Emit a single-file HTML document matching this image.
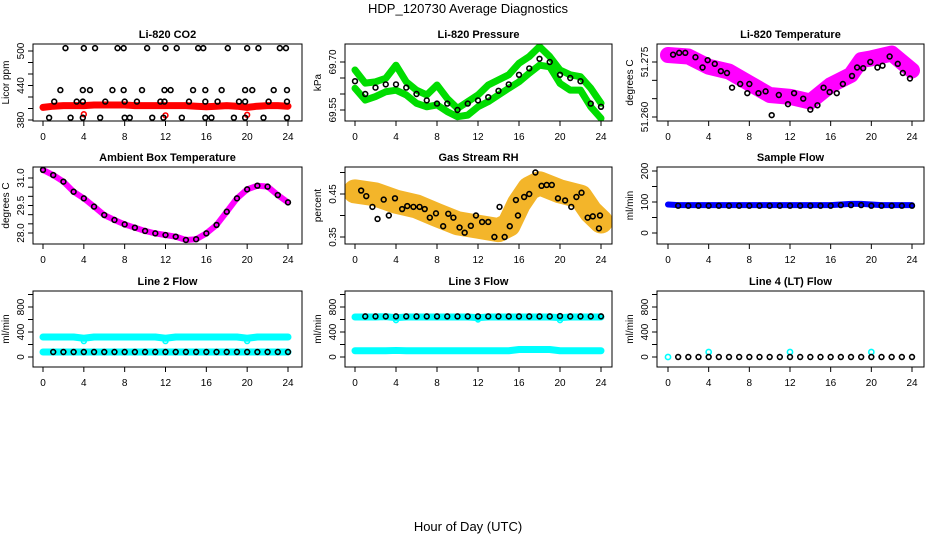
<!DOCTYPE html>
<html><head><meta charset="utf-8">
<style>
html,body{margin:0;padding:0;background:#fff;}
svg{display:block;font-family:"Liberation Sans",sans-serif;}
</style></head>
<body>
<svg id="chart" width="936" height="540" viewBox="0 0 936 540" xmlns="http://www.w3.org/2000/svg">
<text x="468" y="13" text-anchor="middle" font-size="13">HDP_120730  Average Diagnostics</text>
<text x="468" y="531" text-anchor="middle" font-size="13">Hour of Day (UTC)</text>
</svg>
<script>
const HOURS = [0,1,2,3,4,5,6,7,8,9,10,11,12,13,14,15,16,17,18,19,20,21,22,23,24];
const xTicks = [0,4,8,12,16,20,24];

// CO2
const co2Red = [402,404,405,405,405,406,406,406,406,405,405,405,405,405,405,404,403,404,405,404,402,404,405,405,404];
const co2RedOutHours = [4,12,20];
const co2RedOutVals = [390,388,389];
const co2Row1Hours = [2.2,4,5.1,7.3,7.9,10.2,12,13.1,15.2,15.7,18.1,20,21.1,23.2,23.8];
const co2Row2Hours = [1.7,3.9,4.6,6.8,7.9,9.7,11.9,12.5,14.7,15.9,17.5,19.8,20.5,22.6,23.9];
const co2Row3Hours = [1.1,3.3,3.9,6.1,8,9.2,11.5,11.9,14.3,15.9,17.1,19.2,19.8,22.1,23.9];
const co2Row4Hours = [0.6,2.7,3.9,5.6,8,8.5,10.7,11.8,13.6,15.9,16.5,18.7,19.8,21.6,23.9];
const co2RowVals = [505,432,412,384];

// Pressure
const presUpper = [69.675,69.634,69.638,69.649,69.69,69.638,69.612,69.597,69.628,69.586,69.555,69.576,69.597,69.628,69.644,69.66,69.696,69.717,69.748,69.717,69.675,69.66,69.654,69.618,69.571];
const presLower = [69.618,69.581,69.592,69.607,69.612,69.597,69.571,69.56,69.566,69.545,69.529,69.534,69.56,69.576,69.597,69.618,69.638,69.665,69.69,69.685,69.633,69.612,69.612,69.56,69.524];
const presBlack = [69.64,69.60,69.62,69.63,69.63,69.62,69.60,69.58,69.57,69.57,69.55,69.57,69.58,69.59,69.61,69.63,69.66,69.68,69.71,69.70,69.66,69.65,69.64,69.57,69.56];

// Li-820 temperature
const tempHours = [0,2,4,6,8,10,12,14,16,18,19,20,22,24];
const tempCloud = [51.2769,51.2765,51.2737,51.2724,51.2692,51.266,51.2655,51.2642,51.2687,51.2715,51.2755,51.276,51.2773,51.2727];
const tempBlackHours = [0.5,1.1,1.7,2.7,3.4,3.9,4.6,5.2,5.8,6.3,7.1,7.8,8,8.9,9.6,10.2,10.9,11.8,12.4,13.3,14,14.7,15.3,15.9,16.6,17.2,18.1,18.6,19.2,19.9,20.6,21.1,21.8,22.6,23.1,23.8];
const tempBlackVals = [51.277,51.2775,51.2775,51.2763,51.2735,51.2755,51.2745,51.2725,51.272,51.268,51.269,51.2665,51.269,51.2665,51.267,51.2605,51.266,51.2635,51.2665,51.265,51.262,51.2632,51.268,51.2668,51.2665,51.269,51.2712,51.2735,51.2733,51.275,51.2735,51.274,51.2765,51.2745,51.272,51.2705];

// Ambient box temperature
const ambVals = [31.44,31.16,30.80,30.25,29.89,29.44,28.98,28.71,28.47,28.29,28.11,27.98,27.89,27.80,27.62,27.66,27.98,28.44,29.16,29.89,30.38,30.58,30.53,30.07,29.67];

// Gas stream RH
const rhHours = [0,2,4,6,8,10,12,14,15,16,17,18,20,22,23,24];
const rhCloud = [0.456,0.449,0.432,0.421,0.401,0.382,0.374,0.366,0.378,0.428,0.463,0.475,0.456,0.444,0.409,0.386];
const rhBlackHours = [0.6,1.1,1.7,2.2,2.8,3.3,3.9,4.6,5.1,5.7,6.3,6.8,7.3,7.9,8.6,9.1,9.6,10.2,10.7,11.3,11.8,12.4,13,13.6,14.1,14.6,15.1,15.7,15.9,16.5,17,17.6,18.2,18.7,19.2,19.8,20.5,21.1,21.6,22.1,22.7,23.2,23.8,23.9];
const rhBlackVals = [0.458,0.445,0.42,0.392,0.437,0.40,0.44,0.415,0.422,0.42,0.42,0.415,0.395,0.405,0.375,0.404,0.395,0.372,0.36,0.376,0.40,0.385,0.385,0.35,0.42,0.35,0.375,0.436,0.40,0.443,0.45,0.50,0.469,0.471,0.471,0.44,0.435,0.42,0.443,0.453,0.395,0.398,0.37,0.40];

// Flows
const sampleBlue = [92,90,90,90,90,90,90,90,90,90,90,90,90,90,90,90,90,92,94,94,92,90,90,90,90];
const sampleBlack = [88,88,88,88,88,88,88,88,88,88,88,88,88,88,88,88,88,90,90,90,88,88,88,88,88];
const line2Cyan = [320,320,320,320,300,320,320,320,320,320,320,320,300,320,320,320,320,320,320,320,300,320,320,320,320];
const line2Black = [80,80,80,80,80,80,80,80,80,80,80,80,80,80,80,80,80,80,80,80,80,80,80,80,80];
const line2DipHours = [4,12,20];
const line2DipVals = [255,255,255];
const line3CyanHigh = [640,640,640,645,630,640,640,640,640,640,640,640,630,640,640,640,640,640,640,640,630,640,640,640,640];
const line3Black = [650,650,650,650,650,650,650,650,650,650,650,650,650,650,650,650,650,650,650,650,655,650,650,650,650];
const line3CyanLow = [100,100,100,100,105,100,100,100,100,100,100,100,100,100,100,100,120,120,120,120,100,100,100,100,100];
const line3DipHours = [4,12,20];
const line3DipVals = [590,600,590];
const line4Black = [0,0,0,0,0,0,0,0,0,0,0,0,0,0,0,0,0,0,0,0,0,0,0,0,0];
const line4SpikeHours = [0,4,12,20];
const line4SpikeVals = [0,80,80,80];

const svg = document.getElementById('chart');
const NS = 'http://www.w3.org/2000/svg';
function mk(tag, attrs, parent){
  const e = document.createElementNS(NS, tag);
  for (const k in attrs) e.setAttribute(k, attrs[k]);
  (parent||svg).appendChild(e);
  return e;
}
const cols = [{l:33,r:302,x0:43,x24:288},{l:345,r:612,x0:355,x24:601},{l:657,r:924,x0:668,x24:912}];
const rows = [{t:44,b:121},{t:167,b:244},{t:291,b:367}];

function makePanel(name, ci, ri, title, ylab, v0, p0, v1, p1, yt, ytLabels){
  const c = cols[ci], r = rows[ri];
  const g = mk('g', {});
  
  
  const X = h => c.x0 + (c.x24 - c.x0) * h / 24;
  const Y = v => p0 + (v - v0) * (p1 - p0) / (v1 - v0);
  const t = mk('text', {x:(c.l+c.r)/2, y:r.t-6, 'text-anchor':'middle', 'font-size':11, 'font-weight':'bold'}, g);
  t.textContent = title;
  
  
  const yl = mk('text', {x:0, y:0, transform:`translate(${c.l-24},${(r.t+r.b)/2}) rotate(-90)`, 'text-anchor':'middle', 'font-size':10}, g);
  yl.textContent = ylab;
  
  
  xTicks.forEach(h => {
    mk('line', {x1:X(h), x2:X(h), y1:r.b, y2:r.b+5, stroke:'#000'}, g);
    const tl = mk('text', {x:X(h), y:r.b+19, 'text-anchor':'middle', 'font-size':10}, g);
    tl.textContent = h;
    
    
  });
  mk('line', {x1:X(0), x2:X(24), y1:r.b, y2:r.b, stroke:'#000'}, g);
  yt.forEach((v, i) => {
    mk('line', {x1:c.l-5, x2:c.l, y1:Y(v), y2:Y(v), stroke:'#000'}, g);
    if (ytLabels[i] !== '') {
      const tl = mk('text', {x:0, y:0, transform:`translate(${c.l-9},${Y(v)}) rotate(-90)`, 'text-anchor':'middle', 'font-size':10}, g);
      tl.textContent = ytLabels[i];
      
      
    }
  });
  const plot = mk('g', {}, g);
  
  
  const clip = 'clip-' + name;
  const cp = mk('clipPath', {id:clip}, g);
  mk('rect', {x:c.l, y:r.t, width:c.r-c.l, height:r.b-r.t}, cp);
  plot.setAttribute('clip-path', `url(#${clip})`);
  const box = mk('rect', {x:c.l, y:r.t, width:c.r-c.l, height:r.b-r.t, fill:'none', stroke:'#000'}, g);
  
  
  return {X, Y, plot};
}
function band(P, hours, vals, color, w, name){
  const pl = mk('polyline', {points: hours.map((h,i)=>P.X(h)+','+P.Y(vals[i])).join(' '), fill:'none', stroke:color, 'stroke-width':w, 'stroke-linejoin':'round', 'stroke-linecap':'round'}, P.plot);
  
  
}
function pts(P, hours, vals, color, name, rr){
  hours.forEach((h,i) => {
    const ci = mk('circle', {cx:P.X(h), cy:P.Y(vals[i]), r:rr||2.4, fill:'none', stroke:color, 'stroke-width':1.6}, P.plot);
    
    
  });
}
function densePts(P, hours, vals, color, name){
  // points at every data hour, plus markers at half-way spacing along the series
  for (let i = 0; i < hours.length; i++) {
    pts(P, [hours[i]], [vals[i]], color, name, 2.3);
  }
}

// Panel 1: CO2
let P = makePanel('co2', 0, 0, 'Li-820 CO2', 'Licor ppm', 380, 120, 500, 51,
  [380,400,420,440,460,480,500], ['380','','','440','','','500']);
band(P, HOURS, co2Red, '#ff0000', 7, 'co2-red-series');
pts(P, co2RedOutHours, co2RedOutVals, '#ff0000', 'co2-red-outlier');
[co2Row1Hours, co2Row2Hours, co2Row3Hours, co2Row4Hours].forEach((hs, k) => {
  pts(P, hs, hs.map(() => co2RowVals[k]), '#000', 'co2-black-point');
});

// Panel 2: Pressure
P = makePanel('pressure', 1, 0, 'Li-820 Pressure', 'kPa', 69.55, 110, 69.70, 62,
  [69.55,69.60,69.65,69.70], ['69.55','','','69.70']);
band(P, HOURS, presUpper, '#00dd00', 7, 'pressure-green-upper');
band(P, HOURS, presLower, '#00dd00', 7, 'pressure-green-lower');
pts(P, HOURS, presBlack, '#000', 'pressure-black-point');

// Panel 3: Li-820 temperature
P = makePanel('li820-temp', 2, 0, 'Li-820 Temperature', 'degrees C', 51.260, 117, 51.275, 62,
  [51.260,51.265,51.270,51.275], ['51.260','','','51.275']);
band(P, tempHours, tempCloud, '#ff00ff', 16, 'li820-temp-magenta-cloud');
pts(P, tempBlackHours, tempBlackVals, '#000', 'li820-temp-black-point');

// Panel 4: Ambient
P = makePanel('ambient-temp', 0, 1, 'Ambient Box Temperature', 'degrees C', 28.0, 233, 31.0, 178,
  [28.0,28.5,29.0,29.5,30.0,30.5,31.0], ['28.0','','','29.5','','','31.0']);
band(P, HOURS, ambVals, '#ff00ff', 6, 'ambient-magenta-series');
pts(P, HOURS, ambVals, '#000', 'ambient-black-point');

// Panel 5: RH
P = makePanel('gas-rh', 1, 1, 'Gas Stream RH', 'percent', 0.35, 237, 0.45, 194,
  [0.35,0.40,0.45,0.50], ['0.35','','0.45','']);
band(P, rhHours, rhCloud, '#f3b52a', 24, 'rh-orange-cloud');
pts(P, rhBlackHours, rhBlackVals, '#000', 'rh-black-point');

// Panel 6: Sample flow
P = makePanel('sample-flow', 2, 1, 'Sample Flow', 'ml/min', 0, 233, 200, 171,
  [0,50,100,150,200], ['0','','100','','200']);
band(P, HOURS, sampleBlue, '#0000ff', 6, 'sample-flow-blue');
pts(P, HOURS.slice(1), sampleBlack.slice(1), '#000', 'sample-flow-black-point');

// Panel 7: Line 2
P = makePanel('line2-flow', 0, 2, 'Line 2 Flow', 'ml/min', 0, 357, 800, 307,
  [0,200,400,600,800,1000], ['0','','400','','800','']);
band(P, HOURS, line2Cyan, '#00ffff', 7, 'line2-cyan-high');
band(P, HOURS, line2Black, '#00ffff', 7, 'line2-cyan-low');
pts(P, line2DipHours, line2DipVals, '#00ffff', 'line2-cyan-dip');
pts(P, HOURS.slice(1), line2Black.slice(1), '#000', 'line2-black-point');

// Panel 8: Line 3
P = makePanel('line3-flow', 1, 2, 'Line 3 Flow', 'ml/min', 0, 357, 800, 307,
  [0,200,400,600,800,1000], ['0','','400','','800','']);
band(P, HOURS, line3CyanHigh, '#00ffff', 7, 'line3-cyan-high');
band(P, HOURS, line3CyanLow, '#00ffff', 7, 'line3-cyan-low');
pts(P, line3DipHours, line3DipVals, '#00ffff', 'line3-cyan-dip');
pts(P, HOURS.slice(1), line3Black.slice(1), '#000', 'line3-black-point');

// Panel 9: Line 4
P = makePanel('line4-flow', 2, 2, 'Line 4 (LT) Flow', 'ml/min', 0, 357, 800, 307,
  [0,200,400,600,800,1000], ['0','','400','','800','']);
pts(P, line4SpikeHours, line4SpikeVals, '#00ffff', 'line4-cyan-point', 2.6);
pts(P, HOURS.slice(1), line4Black.slice(1), '#000', 'line4-black-point');
</script>
</body></html>
